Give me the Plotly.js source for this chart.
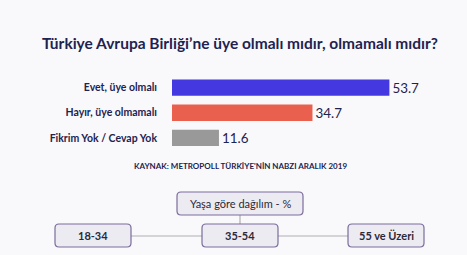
<!DOCTYPE html>
<html>
<head>
<meta charset="utf-8">
<script src="https://cdn.plot.ly/plotly-3.0.1.min.js"></script>
<style>html,body{margin:0;padding:0;background:#F9F9FB;}#chart{width:467px;height:255px;}</style>
</head>
<body>
<div id="chart"></div>
<script>
const categories = ["Evet, üye olmalı", "Hayır, üye olmamalı", "Fikrim Yok / Cevap Yok"];
const values = [53.7, 34.7, 11.6];
const barColors = ["#4439E0", "#E9604F", "#999999"];
const titleText = "Türkiye Avrupa Birliği’ne üye olmalı mıdır, olmamalı mıdır?";
const sourceText = "KAYNAK: METROPOLL TÜRKİYE'NİN NABZI ARALIK 2019";
const headerBox = "Yaşa göre dağılım - %";
const ageGroups = ["18-34", "35-54", "55 ve Üzeri"];

const W = 467, H = 255;
const X = px => px / W;
const Y = py => 1 - py / H;
const navy = "#1E2350";

function roundRect(x0, y0, x1, y1, r) {
  const rx = r / W, ry = r / H;
  const a = X(x0), b = X(x1), t = Y(y0), u = Y(y1);
  return `M ${a+rx},${t} L ${b-rx},${t} Q ${b},${t} ${b},${t-ry} L ${b},${u+ry} Q ${b},${u} ${b-rx},${u} L ${a+rx},${u} Q ${a},${u} ${a},${u+ry} L ${a},${t-ry} Q ${a},${t} ${a+rx},${t} Z`;
}

const boxStyle = {type: "path", xref: "paper", yref: "paper", fillcolor: "#EDEBF2", line: {color: "#7B6C9C", width: 1.2}, layer: "above"};
const lineStyle = {type: "line", xref: "paper", yref: "paper", line: {color: "#AFAFB5", width: 1.2}, layer: "below"};

const ageBoxes = [[55, 131], [202, 278], [348, 424]];

const shapes = [
  Object.assign({}, lineStyle, {x0: X(131), x1: X(348), y0: Y(236), y1: Y(236)}),
  Object.assign({}, lineStyle, {x0: X(240), x1: X(240), y0: Y(215), y1: Y(225)}),
  Object.assign({}, boxStyle, {path: roundRect(177, 192, 303, 215, 4)})
];
ageBoxes.forEach(b => shapes.push(Object.assign({}, boxStyle, {path: roundRect(b[0], 224, b[1], 247, 4)})));

const annotations = [
  {text: titleText, x: X(240), y: Y(43), xref: "paper", yref: "paper", showarrow: false, xanchor: "center", yanchor: "middle",
   font: {family: "Lato", size: 15.5, color: navy, weight: 700}},
  {text: sourceText, x: X(240), y: Y(166), xref: "paper", yref: "paper", showarrow: false, xanchor: "center", yanchor: "middle",
   font: {family: "Lato", size: 8, color: navy, weight: 700}},
  {text: headerBox, x: X(240), y: Y(203.5), xref: "paper", yref: "paper", showarrow: false, xanchor: "center", yanchor: "middle",
   font: {family: "Lato", size: 11, color: "#2A2A3A"}}
];
ageGroups.forEach((g, i) => annotations.push({text: g, x: X((ageBoxes[i][0] + ageBoxes[i][1]) / 2), y: Y(235.5), xref: "paper", yref: "paper",
  showarrow: false, xanchor: "center", yanchor: "middle", font: {family: "Lato", size: 11, color: "#2A2A3A", weight: 700}}));

const trace = {
  type: "bar", orientation: "h", x: values, y: categories,
  marker: {color: barColors, line: {width: 0}},
  text: values.map(v => v.toFixed(1)), textposition: "outside", cliponaxis: false,
  textfont: {family: "Lato", size: 14, color: navy},
  hoverinfo: "none"
};

const layout = {
  width: W, height: H,
  margin: {l: 0, r: 0, t: 0, b: 0},
  paper_bgcolor: "#F9F9FB", plot_bgcolor: "rgba(0,0,0,0)",
  showlegend: false, bargap: 0.355,
  xaxis: {domain: [X(172), X(440)], range: [0, 66.2], visible: false, fixedrange: true},
  yaxis: {domain: [Y(150.6), Y(74.9)], autorange: "reversed", showgrid: false, zeroline: false, showline: false,
          ticks: "", ticklabelstandoff: 14, automargin: false,
          tickfont: {family: "Lato", size: 10.5, color: navy, weight: 700}},
  shapes: shapes, annotations: annotations
};

Plotly.newPlot("chart", [trace], layout, {displayModeBar: false, staticPlot: true});
</script>
</body>
</html>
